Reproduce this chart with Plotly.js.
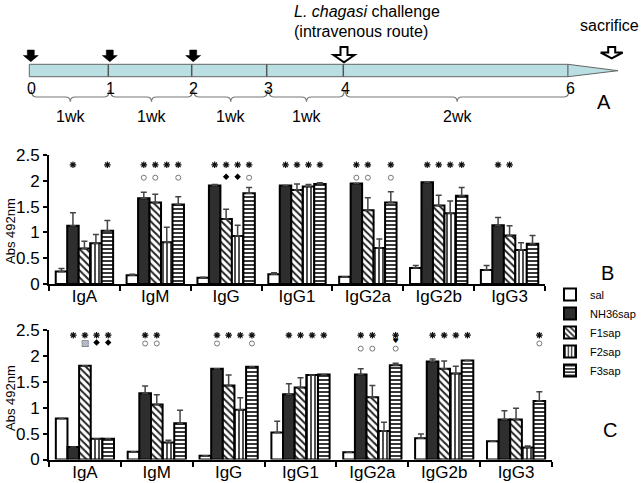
<!DOCTYPE html>
<html><head><meta charset="utf-8">
<script src="https://cdn.plot.ly/plotly-3.0.1.min.js"></script>
<style>html,body{margin:0;padding:0;background:#fff}</style>
</head><body>
<div id="chart" style="width:644px;height:483px"></div>
<script>
// ---------- DATA ----------
const categories = ['IgA','IgM','IgG','IgG1','IgG2a','IgG2b','IgG3'];
const seriesNames = ['sal','NH36sap','F1sap','F2sap','F3sap'];

// Panel B (means)
const B_sal  = [0.24,0.17,0.12,0.19,0.14,0.31,0.27];
const B_nh36 = [1.13,1.66,1.91,1.91,1.95,1.97,1.14];
const B_f1   = [0.69,1.58,1.26,1.82,1.43,1.52,0.94];
const B_f2   = [0.79,0.81,0.93,1.89,0.70,1.37,0.66];
const B_f3   = [1.03,1.54,1.76,1.94,1.58,1.71,0.78];
// Panel B (upper error)
const B_sal_err  = [0.06,0.02,0.01,0.03,0.00,0.05,0.09];
const B_nh36_err = [0.25,0.12,0.02,0.00,0.00,0.01,0.15];
const B_f1_err   = [0.14,0.16,0.19,0.12,0.24,0.20,0.19];
const B_f2_err   = [0.17,0.29,0.21,0.04,0.17,0.24,0.14];
const B_f3_err   = [0.20,0.15,0.11,0.02,0.21,0.16,0.16];

// Panel C (means)
const C_sal  = [0.79,0.15,0.07,0.52,0.14,0.41,0.35];
const C_nh36 = [0.24,1.28,1.75,1.26,1.64,1.89,0.77];
const C_f1   = [1.81,1.06,1.43,1.39,1.20,1.75,0.77];
const C_f2   = [0.40,0.33,0.96,1.63,0.55,1.66,0.23];
const C_f3   = [0.40,0.70,1.79,1.64,1.82,1.91,1.13];
// Panel C (upper error)
const C_sal_err  = [0.00,0.00,0.00,0.22,0.00,0.08,0.01];
const C_nh36_err = [0.00,0.14,0.00,0.20,0.11,0.05,0.17];
const C_f1_err   = [0.00,0.19,0.20,0.19,0.23,0.15,0.22];
const C_f2_err   = [0.00,0.04,0.23,0.00,0.17,0.14,0.03];
const C_f3_err   = [0.00,0.25,0.00,0.00,0.04,0.00,0.18];

// significance marks: series indices per category
const B_star    = [[1,4],[1,2,3,4],[1,2,3,4],[1,2,3,4],[1,2,4],[1,2,3,4],[1,2]];
const B_circle  = [[],[1,2,4],[4],[],[1,2,4],[],[]];
const B_diamond = [[],[],[2,3],[],[],[],[]];
const C_star    = [[1,2,3,4],[1,2],[1,2,3,4],[1,2,3,4],[1,2,4],[1,2,3,4],[4]];
const C_circle  = [[],[1,2],[1,4],[],[1,2,4],[],[4]];
const C_diamond = [[3,4],[],[],[],[],[],[]];
const C_box     = [[2],[],[],[],[],[],[]];
const C_heart   = [[],[],[],[],[4],[],[]];

const y_ticks = [0,0.5,1,1.5,2,2.5];
const y_tick_text = ['0','0.5','1','1.5','2','2.5'];

// timeline (panel A)
const weekLabels = ['0','1','2','3','4','6'];
const intervalLabels = ['1wk','1wk','1wk','1wk','2wk'];
const immunizationIdx = [0,1,2];
const challengeIdx = 4;

// ---------- STYLE / LAYOUT ----------
const W=644,H=483;
const FONT='Liberation Sans, Arial, sans-serif';
const px = x => x/W, py = y => 1 - y/H;
const weekPos = [29.3,108.3,191.7,266.7,343.3,568]; // schematic positions (px)
const BARGAP = 0.19;
const barW = (1-BARGAP)/5;

const fills = ['white','#2e2e2e','white','white','white'];
const patterns = [
  {shape:''},
  {shape:''},
  {shape:'\\', fgcolor:'#222', bgcolor:'white', size:5, solidity:0.4},
  {shape:'|', fgcolor:'#222', bgcolor:'white', size:4, solidity:0.4},
  {shape:'-', fgcolor:'#222', bgcolor:'white', size:4, solidity:0.45}
];

function barTraces(vals, errs, xa, ya, showlegend){
  return seriesNames.map((name,i)=>({
    type:'bar', name:name, x: categories.map((_,k)=>k), y: vals[i],
    xaxis:xa, yaxis:ya, showlegend:showlegend, legendgroup:name,
    marker:{color:fills[i], line:{color:'black', width:2}, pattern:patterns[i]},
    error_y:{type:'data', symmetric:false, array:errs[i], arrayminus:errs[i].map(()=>0),
             color:'#444', thickness:1.5, width:3},
    hoverinfo:'skip'
  }));
}
function sigXY(sig, level){
  const x=[], y=[];
  sig.forEach((list,g)=>list.forEach(i=>{ x.push(g+(i-2)*barW); y.push(typeof level==='function'?level(g):level); }));
  return {x,y};
}
function markTrace(sig, level, marker, xa, ya){
  const d=sigXY(sig, level);
  return {type:'scatter', mode:'markers', x:d.x, y:d.y, xaxis:xa, yaxis:ya, showlegend:false,
          marker:marker, hoverinfo:'skip', cliponaxis:false};
}
function textTrace(sig, level, txt, font, xa, ya){
  const d=sigXY(sig, level);
  return {type:'scatter', mode:'text', x:d.x, y:d.y, text:d.x.map(()=>txt), textposition:'middle center',
          textfont:font, xaxis:xa, yaxis:ya, showlegend:false, hoverinfo:'skip', cliponaxis:false};
}
const starM = {symbol:'asterisk-open', size:5.5, line:{width:1.2, color:'#111'}, color:'#111'};
const circM = {symbol:'circle-open', size:5, line:{width:1, color:'#777'}, color:'#777'};
const diaM  = {symbol:'diamond', size:5, color:'black', line:{width:0}};

const data = [
  ...barTraces([B_sal,B_nh36,B_f1,B_f2,B_f3],[B_sal_err,B_nh36_err,B_f1_err,B_f2_err,B_f3_err],'x','y',true),
  ...barTraces([C_sal,C_nh36,C_f1,C_f2,C_f3],[C_sal_err,C_nh36_err,C_f1_err,C_f2_err,C_f3_err],'x2','y2',false),
  markTrace(B_star, 2.31, starM, 'x','y'),
  markTrace(B_circle, 2.06, circM, 'x','y'),
  markTrace(B_diamond, 2.08, diaM, 'x','y'),
  markTrace(C_star, 2.40, starM, 'x2','y2'),
  markTrace(C_circle, g => C_heart[g].length ? 2.14 : 2.24, circM, 'x2','y2'),
  markTrace(C_diamond, 2.26, diaM, 'x2','y2'),
  textTrace(C_box, 2.24, '▨', {family:'DejaVu Sans', size:9, color:'#666'}, 'x2','y2'),
  textTrace(C_heart, 2.28, '♥', {family:'DejaVu Sans', size:7, color:'black'}, 'x2','y2')
];

function xAxis(x0,x1,anchor){
  return {domain:[px(x0),px(x1)], anchor:anchor, range:[-0.5,6.5], tickmode:'array',
    tickvals:categories.map((_,k)=>k), ticktext:categories, ticks:'', showline:true, linewidth:2,
    linecolor:'black', zeroline:false, showgrid:false, tickfont:{family:FONT,size:17,color:'black'},
    ticklabelstandoff:-4,
    minor:{tick0:0.5, dtick:1, ticks:'outside', ticklen:5, tickwidth:2, tickcolor:'black', showgrid:false},
    fixedrange:true};
}
function yAxis(ytop,ybot,anchor){
  return {domain:[py(ybot),py(ytop)], anchor:anchor, range:[0,2.5], tickmode:'array',
    tickvals:y_ticks, ticktext:y_tick_text, ticks:'outside', ticklen:4, tickwidth:2, tickcolor:'black',
    showline:true, linewidth:2, linecolor:'black', zeroline:false, showgrid:false,
    tickfont:{family:FONT,size:17,color:'black'}, fixedrange:true};
}

// ---------- PANEL A shapes ----------
const shapes = [];
const annotations = [];
const P = (x,y) => px(x)+','+py(y);
const TL_TOP=64.3, TL_BOT=76.7, TL_END=weekPos[weekPos.length-1];
shapes.push({type:'rect', xref:'paper', yref:'paper', x0:px(weekPos[0]), x1:px(TL_END), y0:py(TL_BOT), y1:py(TL_TOP),
  fillcolor:'#badfe3', line:{color:'#666', width:1}});
shapes.push({type:'path', xref:'paper', yref:'paper',
  path:'M'+P(TL_END,TL_TOP)+'L'+P(618,70.7)+'L'+P(TL_END,TL_BOT)+'Z', fillcolor:'#badfe3', line:{color:'#666', width:1}});
weekPos.slice(1,5).forEach(x=>shapes.push({type:'line', xref:'paper', yref:'paper', x0:px(x), x1:px(x), y0:py(TL_TOP), y1:py(TL_BOT), line:{color:'#555', width:1.5}}));
weekLabels.forEach((t,i)=>annotations.push({xref:'paper', yref:'paper', x:px(weekPos[i]+2), y:py(88), text:t, showarrow:false, xanchor:'center', yanchor:'middle', font:{family:FONT,size:16,color:'black'}}));
intervalLabels.forEach((t,i)=>{
  const x1=weekPos[i]+2, x2=weekPos[i+1]+1, xm=(x1+x2)/2, r=5;
  shapes.push({type:'path', xref:'paper', yref:'paper',
    path:'M'+P(x1,90)+'Q'+P(x1,97)+' '+P(x1+r,97)+'L'+P(xm-r,97)+'Q'+P(xm,97)+' '+P(xm,101.7)+
         'Q'+P(xm,97)+' '+P(xm+r,97)+'L'+P(x2-r,97)+'Q'+P(x2,97)+' '+P(x2,90),
    line:{color:'#777', width:1.2}});
  annotations.push({xref:'paper', yref:'paper', x:px(xm), y:py(116.7), text:t, showarrow:false, xanchor:'center', yanchor:'middle', font:{family:FONT,size:16,color:'black'}});
});
function downArrow(c, top, shaftBot, tip, sw, hw, filled){
  return {type:'path', xref:'paper', yref:'paper',
    path:'M'+P(c-sw,top)+'L'+P(c+sw,top)+'L'+P(c+sw,shaftBot)+'L'+P(c+hw,shaftBot)+'L'+P(c,tip)+'L'+P(c-hw,shaftBot)+'L'+P(c-sw,shaftBot)+'Z',
    fillcolor: filled?'black':'white', line:{color:'black', width: filled?0.5:2}};
}
immunizationIdx.forEach(i=>shapes.push(downArrow(weekPos[i]+1.5, 50, 55.5, 61.7, 3.5, 7.5, true)));
shapes.push(downArrow(weekPos[challengeIdx]+0.7, 47, 55, 62.3, 3.5, 10.5, false));
shapes.push(downArrow(611.7, 47, 52.5, 58.3, 3.5, 11, false));

const txt = (x,y,t,size,extra) => Object.assign({xref:'paper', yref:'paper', x:px(x), y:py(y), text:t, showarrow:false, xanchor:'center', yanchor:'middle', font:{family:FONT,size:size,color:'black'}}, extra||{});
annotations.push(txt(367,11.7,'<i>L. chagasi</i> challenge',16));
annotations.push(txt(361,31.7,'(intravenous route)',16));
annotations.push(txt(609,25,'sacrifice',16));
annotations.push(txt(604,101.7,'A',20));
annotations.push(txt(607.7,273,'B',20));
annotations.push(txt(610,430,'C',20));
annotations.push(txt(10,231,'Abs 492nm',13,{textangle:-90}));
annotations.push(txt(10,398,'Abs 492nm',13,{textangle:-90}));

const layout = {
  width:W, height:H, margin:{l:0,r:0,t:0,b:0}, paper_bgcolor:'white', plot_bgcolor:'rgba(0,0,0,0)',
  font:{family:FONT, color:'black'},
  barmode:'group', bargap:BARGAP, bargroupgap:0,
  xaxis: xAxis(49,545,'y'), yaxis: yAxis(155,284,'x'),
  xaxis2: xAxis(49,552,'y2'), yaxis2: yAxis(330,459.5,'x2'),
  showlegend:true,
  legend:{x:px(550), y:py(280), xanchor:'left', yanchor:'top', bgcolor:'rgba(0,0,0,0)', borderwidth:0,
          font:{family:FONT,size:11,color:'black'}, traceorder:'normal', itemwidth:30, tracegroupgap:0},
  shapes:shapes, annotations:annotations
};
Plotly.newPlot('chart', data, layout, {staticPlot:true, displayModeBar:false});
</script>
</body></html>
